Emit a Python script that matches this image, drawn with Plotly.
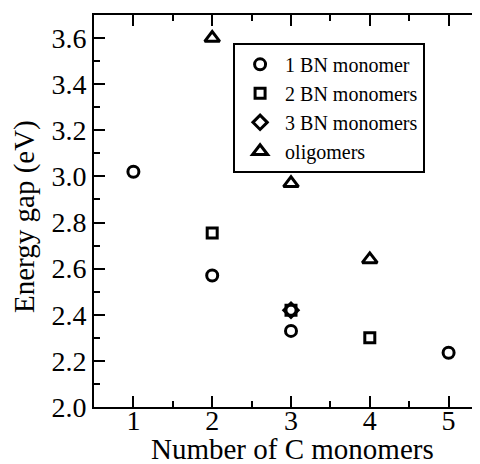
import plotly.graph_objects as go

# Data
bn1_x = [1, 2, 3, 5]
bn1_y = [3.02, 2.57, 2.33, 2.235]
bn2_x = [2, 3, 4]
bn2_y = [2.755, 2.42, 2.30]
bn3_x = [3]
bn3_y = [2.42]
olig_x = [2, 3, 4]
olig_y = [3.60, 2.97, 2.64]

series_names = ["1 BN monomer", "2 BN monomers", "3 BN monomers", "oligomers"]
x_ticks = [1, 2, 3, 4, 5]
y_ticks = [2.0, 2.2, 2.4, 2.6, 2.8, 3.0, 3.2, 3.4, 3.6]
x_title = "Number of C monomers"
y_title = "Energy gap (eV)"

FONT = "Liberation Serif, Times New Roman, serif"

fig = go.Figure()
specs = [
    (bn1_x, bn1_y, series_names[0], "circle-open", 11),
    (bn2_x, bn2_y, series_names[1], "square-open", 10),
    (bn3_x, bn3_y, series_names[2], "diamond-open", 11),
    (olig_x, olig_y, series_names[3], "triangle-up-open", 13),
]
for xs, ys, name, sym, sz in specs:
    fig.add_trace(go.Scatter(
        x=xs, y=ys, mode="markers", name=name,
        marker=dict(symbol=sym, size=sz, color="black",
                    line=dict(color="black", width=3)),
    ))

fig.add_annotation(
    text=x_title, xref="paper", yref="paper", x=0.505, y=-0.108,
    xanchor="center", yanchor="middle", showarrow=False,
    font=dict(family=FONT, size=29, color="black"),
)
fig.add_annotation(
    text=y_title, xref="paper", yref="paper", x=-0.178, y=0.487,
    xanchor="center", yanchor="middle", showarrow=False, textangle=-90,
    font=dict(family=FONT, size=29, color="black"),
)

fig.update_layout(
    template="none",
    width=480, height=464,
    margin=dict(l=86, r=0, t=7, b=65, pad=0, autoexpand=False),
    plot_bgcolor="white", paper_bgcolor="white",
    font=dict(family=FONT, color="black", size=28),
    showlegend=True,
    legend=dict(
        x=0.353, y=0.929, xanchor="left", yanchor="top",
        bordercolor="black", borderwidth=2, bgcolor="rgba(255,255,255,0)",
        font=dict(family=FONT, size=20, color="black"),
        itemwidth=40, tracegroupgap=0,
    ),
    xaxis=dict(
        automargin=False,
        range=[0.5, 5.5], tickvals=x_ticks, ticktext=[str(v) for v in x_ticks],
        ticks="inside", ticklen=11, tickwidth=2, tickcolor="black",
        showline=True, linewidth=2, linecolor="black", mirror="allticks",
        showgrid=False, zeroline=False,
        minor=dict(dtick=0.5, tick0=0.5, ticks="inside", ticklen=6, tickwidth=2, tickcolor="black", showgrid=False),
        tickfont=dict(family=FONT, size=28, color="black"),
        ticklabelstandoff=-13,
    ),
    yaxis=dict(
        automargin=False,
        range=[2.0, 3.7], tickvals=y_ticks, ticktext=[f"{v:.1f}" for v in y_ticks],
        ticks="inside", ticklen=11, tickwidth=2, tickcolor="black",
        showline=True, linewidth=2, linecolor="black", mirror="allticks",
        showgrid=False, zeroline=False,
        minor=dict(dtick=0.1, tick0=2.0, ticks="inside", ticklen=6, tickwidth=2, tickcolor="black", showgrid=False),
        tickfont=dict(family=FONT, size=28, color="black"),
    ),
)

fig.write_html("out.html")
